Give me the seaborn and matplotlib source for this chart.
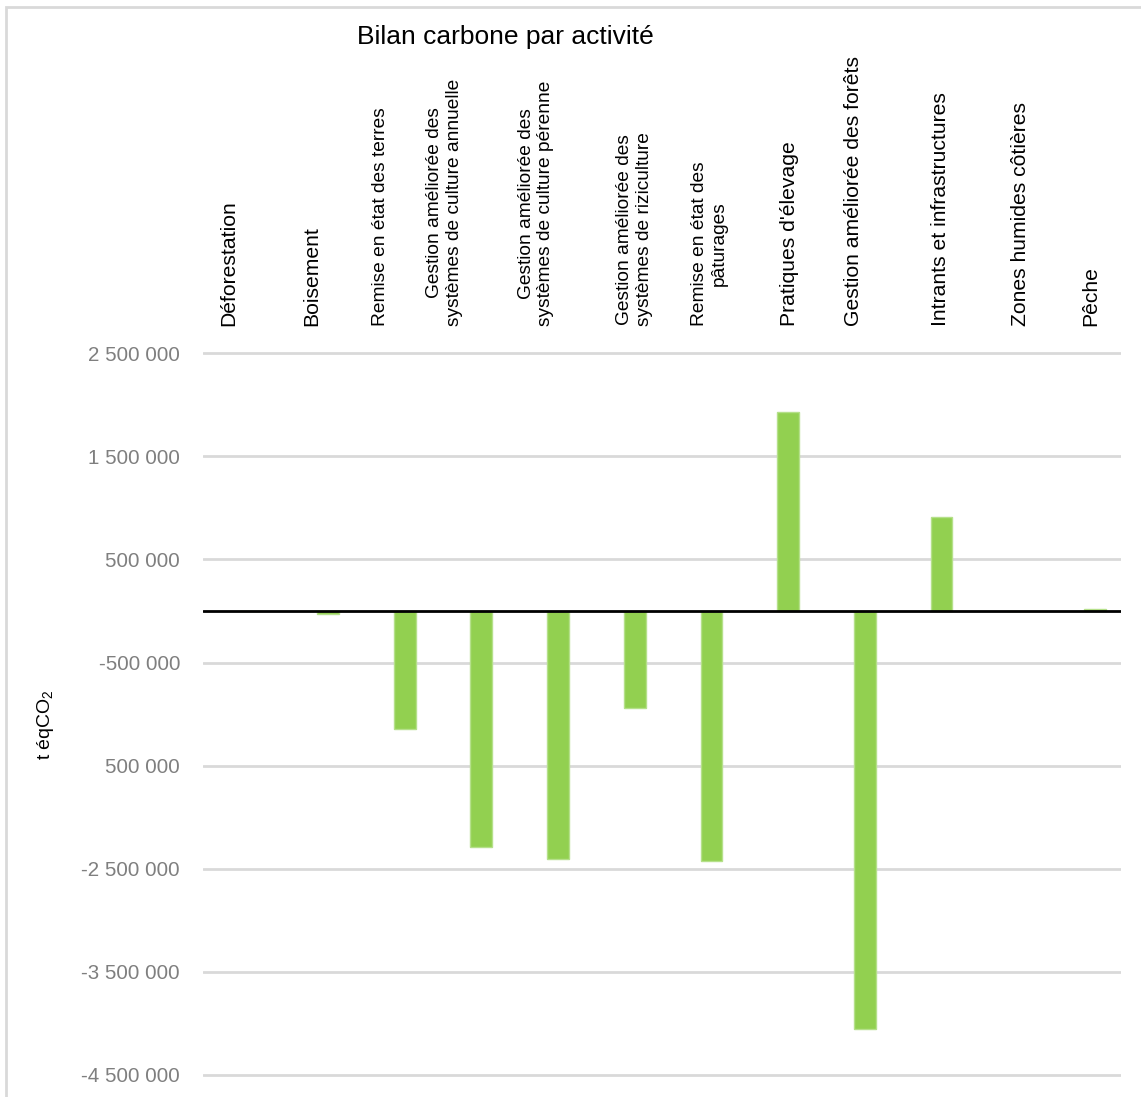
import matplotlib
matplotlib.use("Agg")
import matplotlib.pyplot as plt
import seaborn as sns
import pandas as pd
import numpy as np
from matplotlib.patches import Rectangle

# ---- data ----
categories = [
    "Déforestation",
    "Boisement",
    "Remise en état des terres",
    "Gestion améliorée des\nsystèmes de culture annuelle",
    "Gestion améliorée des\nsystèmes de culture pérenne",
    "Gestion améliorée des\nsystèmes de riziculture",
    "Remise en état des\npâturages",
    "Pratiques d'élevage",
    "Gestion améliorée des forêts",
    "Intrants et infrastructures",
    "Zones humides côtières",
    "Pêche",
]
values = [0, -30000, -1140000, -2285000, -2410000, -943000, -2422000,
          1930000, -4060000, 910000, 0, 20000]
ytick_values = [2500000, 1500000, 500000, -500000, -1500000, -2500000, -3500000, -4500000]
ytick_labels = ["2 500 000", "1 500 000", "500 000", "-500 000", "500 000",
                "-2 500 000", "-3 500 000", "-4 500 000"]
title = "Bilan carbone par activité"
ylabel = "t éqCO$_2$"

# layout: horizontal shift of each category label (in category units)
label_shift = [-0.30, -0.21, -0.31, -0.48, -0.29, 0.0, -0.03, 0.02, -0.15, -0.01, 0.03, -0.05]

sns.set_theme(style="white")
plt.rcParams["font.family"] = ["Liberation Sans", "DejaVu Sans"]
plt.rcParams["mathtext.fontset"] = "custom"
plt.rcParams["mathtext.rm"] = "Liberation Sans"
plt.rcParams["mathtext.it"] = "Liberation Sans"

W, H = 1141, 1097
fig = plt.figure(figsize=(W / 100, H / 100), dpi=100)
fig.patch.set_facecolor("white")

left, right = 203 / W, 1121 / W
top_px, bot_px = 343, 1080
ax = fig.add_axes([left, 1 - bot_px / H, right - left, (bot_px - top_px) / H])

df = pd.DataFrame({"cat": categories, "val": values})
sns.barplot(data=df, x="cat", y="val", color="#92D050", saturation=1,
            width=0.285, edgecolor="#B5E08A", linewidth=1.0, ax=ax, zorder=2)

ax.set_xlim(-0.63, 11.34)
ax.set_ylim(-4550000, 2600000)

# grid
ax.set_yticks(ytick_values)
ax.set_yticklabels(ytick_labels)
for yv in ytick_values:
    ax.axhline(yv, color="#D9D9D9", lw=2, zorder=1)
ax.axhline(0, color="black", lw=2, zorder=3)

for s in ax.spines.values():
    s.set_visible(False)

ax.tick_params(axis="y", length=0, pad=16.5, labelsize=14.8, labelcolor="#7F7F7F")
ax.set_ylabel("")
ax.set_xlabel("")

# category labels on top
ax.xaxis.tick_top()
ax.tick_params(axis="x", length=0, pad=12)
ax.set_xticks(np.arange(len(categories)) + np.array(label_shift))
ax.set_xticklabels(categories, rotation=90, ha="center", va="bottom",
                   multialignment="center", color="black")
ax.set_xlim(-0.63, 11.34)
for lab in ax.get_xticklabels():
    t = lab.get_text()
    if "\n" in t or t.startswith("Remise en état des t"):
        lab.set_fontsize(13.8)
    else:
        lab.set_fontsize(15.2)

fig.text(505 / W, 1 - 37 / H, title, ha="center", va="center", fontsize=19, color="black")
fig.text(45 / W, 1 - 725 / H, ylabel, ha="center", va="center", rotation=90,
         fontsize=14, color="black")

# chart border
fig.patches.append(Rectangle((6 / W, -0.1), 1.2, 1 - 7 / H + 0.1,
                             transform=fig.transFigure, fill=False,
                             edgecolor="#D9D9D9", lw=2))

fig.savefig("out.png", dpi=100, facecolor="white")
